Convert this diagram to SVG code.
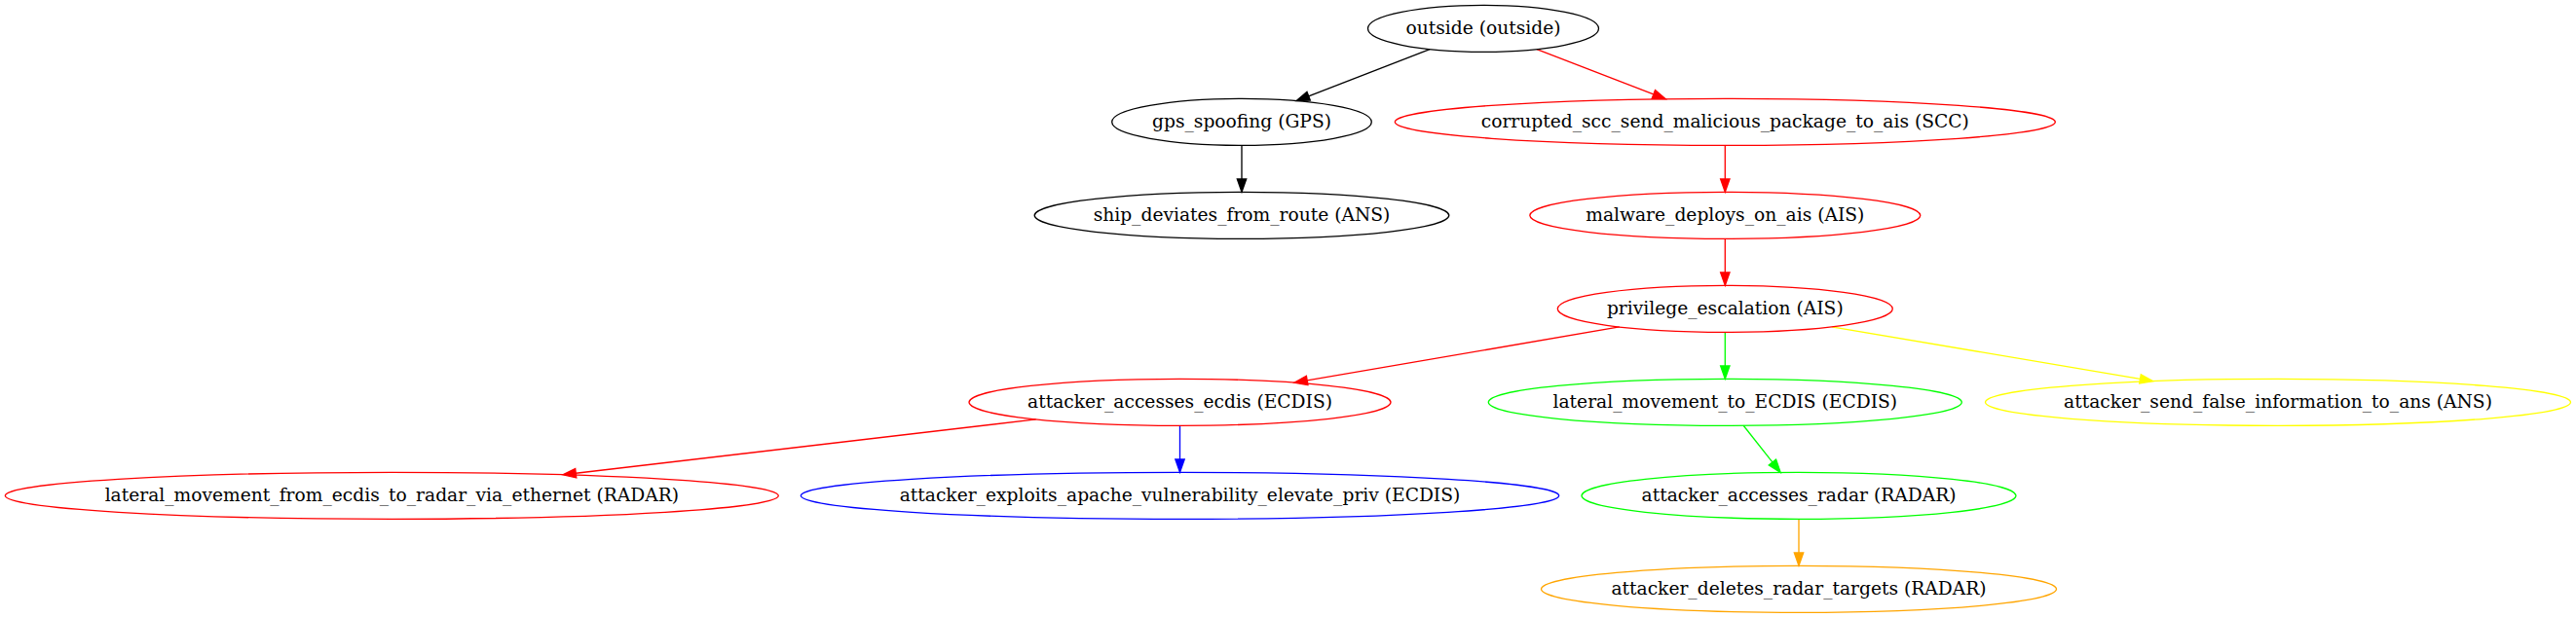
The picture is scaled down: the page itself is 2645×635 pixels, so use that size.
<svg xmlns="http://www.w3.org/2000/svg" width="2645" height="635" viewBox="0 0 2645 635">
<style>
.n ellipse{fill:none;stroke-width:1.333}
.n text{font-family:"DejaVu Serif","Liberation Serif",serif;font-size:18.667px;fill:#000;text-anchor:middle}
.e path{fill:none;stroke-width:1.333}
.k{stroke:#000}.r{stroke:#ff0000}.g{stroke:#00ff00}.b{stroke:#0000ff}.y{stroke:#ffff00}.o{stroke:#ffa500}
</style>
<defs>
<marker id="ak" viewBox="0 0 13.333 9.333" markerWidth="13.333" markerHeight="9.333" refX="0" refY="4.667" orient="auto" markerUnits="userSpaceOnUse" overflow="visible"><path d="M0,0L13.333,4.667L0,9.333z" fill="#000" stroke="#000" stroke-width="1.333"/></marker>
<marker id="ar" viewBox="0 0 13.333 9.333" markerWidth="13.333" markerHeight="9.333" refX="0" refY="4.667" orient="auto" markerUnits="userSpaceOnUse" overflow="visible"><path d="M0,0L13.333,4.667L0,9.333z" fill="#ff0000" stroke="#ff0000" stroke-width="1.333"/></marker>
<marker id="ag" viewBox="0 0 13.333 9.333" markerWidth="13.333" markerHeight="9.333" refX="0" refY="4.667" orient="auto" markerUnits="userSpaceOnUse" overflow="visible"><path d="M0,0L13.333,4.667L0,9.333z" fill="#00ff00" stroke="#00ff00" stroke-width="1.333"/></marker>
<marker id="ab" viewBox="0 0 13.333 9.333" markerWidth="13.333" markerHeight="9.333" refX="0" refY="4.667" orient="auto" markerUnits="userSpaceOnUse" overflow="visible"><path d="M0,0L13.333,4.667L0,9.333z" fill="#0000ff" stroke="#0000ff" stroke-width="1.333"/></marker>
<marker id="ay" viewBox="0 0 13.333 9.333" markerWidth="13.333" markerHeight="9.333" refX="0" refY="4.667" orient="auto" markerUnits="userSpaceOnUse" overflow="visible"><path d="M0,0L13.333,4.667L0,9.333z" fill="#ffff00" stroke="#ffff00" stroke-width="1.333"/></marker>
<marker id="ao" viewBox="0 0 13.333 9.333" markerWidth="13.333" markerHeight="9.333" refX="0" refY="4.667" orient="auto" markerUnits="userSpaceOnUse" overflow="visible"><path d="M0,0L13.333,4.667L0,9.333z" fill="#ffa500" stroke="#ffa500" stroke-width="1.333"/></marker>
</defs>
<rect width="2645" height="635" fill="#fff"/>
<g id="edges" class="e">
<path class="k" marker-end="url(#ak)" d="M1468.07,50.6L1343.65,98.76"/>
<path class="r" marker-end="url(#ar)" d="M1577.99,50.59L1697.81,96.91"/>
<path class="k" marker-end="url(#ak)" d="M1275,149.33L1275,184"/>
<path class="r" marker-end="url(#ar)" d="M1771.3,149.33L1771.3,184"/>
<path class="r" marker-end="url(#ar)" d="M1771.3,245.33L1771.3,280"/>
<path class="r" marker-end="url(#ar)" d="M1662.74,335.95L1342.17,390.92"/>
<path class="g" marker-end="url(#ag)" d="M1771.3,341.33L1771.3,376"/>
<path class="y" marker-end="url(#ay)" d="M1880.77,335.84L2197.53,389.41"/>
<path class="r" marker-end="url(#ar)" d="M1063.68,430.87L591.24,486.25"/>
<path class="b" marker-end="url(#ab)" d="M1211.5,437.33L1211.5,472"/>
<path class="g" marker-end="url(#ag)" d="M1790.17,437.26L1819.89,474.95"/>
<path class="o" marker-end="url(#ao)" d="M1847,533.33L1847,568"/>
</g>
<g id="outside" class="n"><ellipse class="k" cx="1523" cy="29.33" rx="118.5" ry="24"/><text x="1523" y="34.5">outside (outside)</text></g>
<g id="gps_spoofing" class="n"><ellipse class="k" cx="1275" cy="125.33" rx="133.3" ry="24"/><text x="1275" y="130.5">gps_spoofing (GPS)</text></g>
<g id="corrupted_scc" class="n"><ellipse class="r" cx="1771.3" cy="125.33" rx="339" ry="24"/><text x="1771.3" y="130.5">corrupted_scc_send_malicious_package_to_ais (SCC)</text></g>
<g id="ship_deviates" class="n"><ellipse class="k" cx="1275" cy="221.33" rx="212.8" ry="24"/><text x="1275" y="226.5">ship_deviates_from_route (ANS)</text></g>
<g id="malware_deploys" class="n"><ellipse class="r" cx="1771.3" cy="221.33" rx="200.5" ry="24"/><text x="1771.3" y="226.5">malware_deploys_on_ais (AIS)</text></g>
<g id="privilege_escalation" class="n"><ellipse class="r" cx="1771.3" cy="317.33" rx="172" ry="24"/><text x="1771.3" y="322.5">privilege_escalation (AIS)</text></g>
<g id="attacker_accesses_ecdis" class="n"><ellipse class="r" cx="1211.5" cy="413.33" rx="216.5" ry="24"/><text x="1211.5" y="418.5">attacker_accesses_ecdis (ECDIS)</text></g>
<g id="lateral_movement_to_ECDIS" class="n"><ellipse class="g" cx="1771.3" cy="413.33" rx="243" ry="24"/><text x="1771.3" y="418.5">lateral_movement_to_ECDIS (ECDIS)</text></g>
<g id="attacker_send_false" class="n"><ellipse class="y" cx="2339" cy="413.33" rx="300.5" ry="24"/><text x="2339" y="418.5">attacker_send_false_information_to_ans (ANS)</text></g>
<g id="lateral_movement_from_ecdis" class="n"><ellipse class="r" cx="402.3" cy="509.33" rx="397" ry="24"/><text x="402.3" y="514.5">lateral_movement_from_ecdis_to_radar_via_ethernet (RADAR)</text></g>
<g id="attacker_exploits_apache" class="n"><ellipse class="b" cx="1211.5" cy="509.33" rx="389.2" ry="24"/><text x="1211.5" y="514.5">attacker_exploits_apache_vulnerability_elevate_priv (ECDIS)</text></g>
<g id="attacker_accesses_radar" class="n"><ellipse class="g" cx="1847" cy="509.33" rx="223" ry="24"/><text x="1847" y="514.5">attacker_accesses_radar (RADAR)</text></g>
<g id="attacker_deletes_radar_targets" class="n"><ellipse class="o" cx="1847" cy="605.33" rx="264.5" ry="24"/><text x="1847" y="610.5">attacker_deletes_radar_targets (RADAR)</text></g>
</svg>
